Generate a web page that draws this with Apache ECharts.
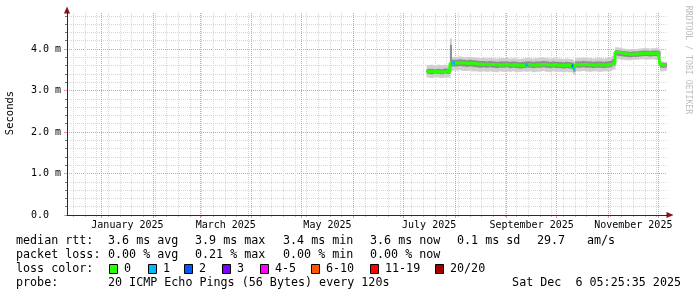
<!DOCTYPE html>
<html><head><meta charset="utf-8">
<script src="https://cdn.jsdelivr.net/npm/echarts@6/dist/echarts.min.js"></script>
<style>html,body{margin:0;padding:0;background:#fff}#c{width:697px;height:297px}</style>
</head><body><div id="c"></div>
<script>
// ---------- data (ms) ----------
const dates = [
 '2025-07-15','2025-07-17','2025-07-19','2025-07-21','2025-07-23','2025-07-25','2025-07-27',
 '2025-07-29','2025-07-29T20:00','2025-07-30',
 '2025-08-01','2025-08-03','2025-08-05','2025-08-07','2025-08-09','2025-08-11','2025-08-13','2025-08-15',
 '2025-08-17','2025-08-19','2025-08-21','2025-08-23','2025-08-25','2025-08-27','2025-08-29','2025-08-31',
 '2025-09-02','2025-09-04','2025-09-06','2025-09-08','2025-09-10','2025-09-12','2025-09-14','2025-09-16',
 '2025-09-18','2025-09-20','2025-09-22','2025-09-24','2025-09-26','2025-09-28','2025-09-30',
 '2025-10-02','2025-10-04','2025-10-06','2025-10-08','2025-10-10','2025-10-11','2025-10-12',
 '2025-10-14','2025-10-16','2025-10-18','2025-10-20','2025-10-22','2025-10-24','2025-10-26','2025-10-28','2025-10-30',
 '2025-11-01','2025-11-03',
 '2025-11-05','2025-11-07','2025-11-09','2025-11-11','2025-11-13','2025-11-15','2025-11-17','2025-11-19',
 '2025-11-21','2025-11-23','2025-11-25','2025-11-27','2025-11-29','2025-12-01',
 '2025-12-02','2025-12-04','2025-12-05T18:00'
];
const median = [
 3.46,3.45,3.46,3.45,3.44,3.46,3.45,
 3.65,3.65,3.66,
 3.66,3.67,3.66,3.65,3.66,3.65,3.64,3.63,
 3.63,3.62,3.63,3.62,3.62,3.61,3.62,3.62,
 3.61,3.62,3.61,3.60,3.61,3.62,3.62,3.61,
 3.62,3.62,3.63,3.62,3.61,3.62,3.61,
 3.61,3.60,3.61,3.60,3.59,3.52,3.62,
 3.62,3.63,3.62,3.62,3.61,3.62,3.62,3.61,3.62,
 3.63,3.67,
 3.92,3.91,3.89,3.88,3.87,3.88,3.88,3.89,
 3.90,3.90,3.89,3.90,3.90,3.88,
 3.62,3.61,3.61
];
// lost pings (of 20) per point
const lost = [
 0,0,0,0,0,0,0,
 0,0,1,
 0,0,0,0,0,0,0,0,
 0,0,0,0,0,0,0,0,
 0,0,0,0,0,1,0,0,
 0,0,0,0,0,0,0,
 0,0,0,0,2,1,0,
 0,0,0,0,0,0,0,0,0,
 0,0,
 0,0,0,0,0,0,0,0,
 0,0,0,0,0,0,
 0,0,0
];
const outerLo = [
 3.31,3.30,3.32,3.31,3.30,3.31,3.31,
 3.47,3.47,3.48,
 3.48,3.49,3.47,3.47,3.48,3.46,3.46,3.45,
 3.46,3.45,3.46,3.45,3.44,3.46,3.45,3.46,
 3.45,3.46,3.44,3.45,3.46,3.45,3.46,3.44,
 3.45,3.46,3.47,3.45,3.44,3.46,3.45,
 3.45,3.44,3.45,3.44,3.43,3.38,3.46,
 3.46,3.47,3.46,3.45,3.46,3.46,3.45,3.46,3.46,
 3.47,3.50,
 3.76,3.75,3.74,3.73,3.73,3.74,3.74,3.75,
 3.75,3.74,3.75,3.75,3.74,3.74,
 3.46,3.47,3.47
];
const outerHi = [
 3.61,3.62,3.60,3.62,3.61,3.62,3.60,
 4.25,3.80,3.81,
 3.81,3.82,3.80,3.80,3.81,3.80,3.79,3.78,
 3.79,3.78,3.79,3.78,3.77,3.78,3.78,3.79,
 3.77,3.78,3.77,3.76,3.77,3.78,3.78,3.77,
 3.78,3.78,3.79,3.78,3.77,3.78,3.77,
 3.77,3.76,3.77,3.76,3.75,3.70,3.78,
 3.78,3.79,3.78,3.78,3.77,3.78,3.78,3.77,3.78,
 3.79,3.83,
 4.04,4.03,4.01,4.00,3.99,4.00,4.00,4.01,
 4.02,4.02,4.01,4.02,4.02,4.00,
 3.70,3.69,3.69
];
const innerLo = [
 3.40,3.39,3.41,3.40,3.39,3.41,3.40,
 3.57,3.57,3.58,
 3.58,3.59,3.58,3.57,3.58,3.57,3.56,3.55,
 3.56,3.55,3.56,3.55,3.54,3.55,3.55,3.56,
 3.54,3.55,3.54,3.53,3.54,3.55,3.55,3.54,
 3.55,3.55,3.56,3.55,3.54,3.55,3.54,
 3.54,3.53,3.54,3.53,3.52,3.45,3.55,
 3.55,3.56,3.55,3.55,3.54,3.55,3.55,3.54,3.55,
 3.56,3.60,
 3.84,3.83,3.82,3.81,3.80,3.81,3.81,3.82,
 3.83,3.83,3.82,3.83,3.83,3.81,
 3.55,3.55,3.55
];
const innerHi = [
 3.52,3.52,3.51,3.52,3.51,3.53,3.52,
 4.10,3.73,3.74,
 3.74,3.75,3.74,3.73,3.74,3.73,3.72,3.71,
 3.71,3.70,3.71,3.70,3.69,3.70,3.70,3.70,
 3.69,3.70,3.69,3.68,3.69,3.70,3.70,3.69,
 3.70,3.70,3.71,3.70,3.69,3.70,3.69,
 3.69,3.68,3.69,3.68,3.67,3.60,3.70,
 3.70,3.71,3.70,3.70,3.69,3.70,3.70,3.69,3.70,
 3.71,3.75,
 3.97,3.96,3.95,3.94,3.93,3.94,3.94,3.95,
 3.96,3.96,3.95,3.96,3.96,3.94,
 3.67,3.66,3.66
];

// ---------- axes / ticks / labels ----------
const xStart = '2024-12-11T05:25:35';
const xEnd = '2025-12-06T05:25:35';
const firstWeek = '2024-12-15';
const monthStarts = ['2025-01-01','2025-02-01','2025-03-01','2025-04-01','2025-05-01','2025-06-01',
  '2025-07-01','2025-08-01','2025-09-01','2025-10-01','2025-11-01','2025-12-01'];
const labelMonths = ['2025-01','2025-03','2025-05','2025-07','2025-09','2025-11'];
const labelTexts = ['January 2025','March 2025','May 2025','July 2025','September 2025','November 2025'];
const yMajor = [0,1,2,3,4];
const yMajorLabels = ['0.0  ','1.0 m','2.0 m','3.0 m','4.0 m'];
const yMinor = [0.2,0.4,0.6,0.8,1.2,1.4,1.6,1.8,2.2,2.4,2.6,2.8,3.2,3.4,3.6,3.8,4.2,4.4,4.6,4.8];
const yMax = 4.867;
const yTitle = 'Seconds';
const watermark = 'RRDTOOL / TOBI OETIKER';

// ---------- legend texts ----------
const rowLabels = ['median rtt:', 'packet loss:', 'loss color:', 'probe:'];
const rttStats = ['3.6 ms avg','3.9 ms max','3.4 ms min','3.6 ms now','0.1 ms sd','29.7','am/s'];
const lossStats = ['0.00 % avg','0.21 % max','0.00 % min','0.00 % now'];
const lossBins = ['0','1','2','3','4-5','6-10','11-19','20/20'];
const lossBinMax = [0,1,2,3,5,10,19,20];
const lossColors = ['#26ff00','#00b8ff','#0059ff','#7e00ff','#ff00ff','#ff5500','#ff0000','#a10000'];
const probeText = '20 ICMP Echo Pings (56 Bytes) every 120s';
const stampText = 'Sat Dec  6 05:25:35 2025';

// ---------- build ----------
function ms(s){ return Date.parse(s.length === 10 ? s + 'T00:00:00Z' : (s.length === 16 ? s + ':00Z' : s + 'Z')); }
const xMin = ms(xStart), xMax = ms(xEnd);
const DAY = 86400000;
const monthTicks = monthStarts.map(ms);
const weekTicks = [];
for (let t = ms(firstWeek); t <= xMax; t += 7*DAY) if (monthTicks.indexOf(t) < 0) weekTicks.push(t);
const labelVals = [], labelMap = {};
labelMonths.forEach((m, i) => {
  const a = ms(m + '-01');
  const d = new Date(a); const b = Date.UTC(d.getUTCFullYear(), d.getUTCMonth() + 1, 1);
  const v = (a + b) / 2; labelVals.push(v); labelMap[v] = labelTexts[i];
});
const xs = dates.map(ms);
const pair = arr => arr.map((v, i) => [xs[i], v]);
// step bands: [x_i, x_{i+1}, lo_i, hi_i]
const band = (lo, hi) => lo.slice(0, -1).map((v, i) => [xs[i], xs[i + 1], v, hi[i]]);
const binOf = n => lossBinMax.findIndex(m => n <= m);
const lossSegs = [];
lost.forEach((n, i) => { if (n > 0 && i < xs.length - 1) lossSegs.push([xs[i], xs[i + 1], median[i], n]); });

const AX = '#2a2a2a', ARROW = '#8b1010', MINOR = '#d6d6d6', MAJOR = '#ee9898';
const mono = '"DejaVu Sans Mono", monospace';
const baseX = { type: 'value', min: xMin, max: xMax, position: 'bottom', offset: 0,
  axisLine: { show: false }, axisTick: { show: false }, axisLabel: { show: false }, splitLine: { show: false } };
const baseY = { type: 'value', min: 0, max: yMax, position: 'left', offset: 0,
  axisLine: { show: false }, axisTick: { show: false }, axisLabel: { show: false }, splitLine: { show: false } };

const xAxis = [
  Object.assign({}, baseX, { axisTick: { show: true, customValues: weekTicks, length: 2, lineStyle: { color: '#bbb' } },
    splitLine: { show: true, lineStyle: { color: MINOR, width: 1, type: [1, 1] } } }),
  Object.assign({}, baseX, { axisTick: { show: true, customValues: monthTicks, length: 3, lineStyle: { color: MAJOR } },
    splitLine: { show: true, lineStyle: { color: MAJOR, width: 1, type: [1, 1] } } }),
  Object.assign({}, baseX, { axisLabel: { show: true, customValues: labelVals, margin: 5, color: '#000',
    fontFamily: mono, fontSize: 10, formatter: v => labelMap[v] || '' } }),
  Object.assign({}, baseX, { axisLine: { show: true, symbol: ['none', 'triangle'], symbolSize: [6, 7], symbolOffset: [0, 3],
    lineStyle: { color: ARROW, width: 1 } } }),
  Object.assign({}, baseX, { z: 1, axisLine: { show: true, lineStyle: { color: AX, width: 1 } } })
];
const yAxis = [
  Object.assign({}, baseY, { axisTick: { show: true, customValues: yMinor, length: 2, lineStyle: { color: '#777' } },
    splitLine: { show: true, lineStyle: { color: MINOR, width: 1, type: [1, 1] } } }),
  Object.assign({}, baseY, { axisTick: { show: true, customValues: yMajor, length: 3, lineStyle: { color: MAJOR } },
    splitLine: { show: true, lineStyle: { color: MAJOR, width: 1, type: [1, 1] } },
    axisLabel: { show: true, customValues: yMajor, margin: 6, color: '#000', fontFamily: mono, fontSize: 10,
      formatter: v => yMajorLabels[yMajor.indexOf(v)] } }),
  Object.assign({}, baseY, { axisLine: { show: true, symbol: ['none', 'triangle'], symbolSize: [6, 7], symbolOffset: [0, 3],
    lineStyle: { color: ARROW, width: 1 } } }),
  Object.assign({}, baseY, { z: 1, axisLine: { show: true, lineStyle: { color: AX, width: 1 } } })
];

function bandSeries(data, color) {
  return {
    type: 'custom', xAxisIndex: 0, yAxisIndex: 0, silent: true, z: 2,
    encode: { x: [0, 1], y: [2, 3] }, data: data,
    renderItem: function (params, api) {
      const p0 = api.coord([api.value(0), api.value(3)]);
      const p1 = api.coord([api.value(1), api.value(2)]);
      return { type: 'rect', shape: { x: p0[0], y: p0[1], width: p1[0] - p0[0] + 0.6, height: p1[1] - p0[1] },
        style: { fill: color } };
    }
  };
}
const common = { type: 'line', xAxisIndex: 0, yAxisIndex: 0, step: 'end', showSymbol: false, symbol: 'none', silent: true, z: 3 };
const series = [
  bandSeries(band(outerLo, outerHi), '#cfcfcf'),
  bandSeries(band(innerLo, innerHi), '#8e8e8e'),
  Object.assign({}, common, { data: pair(median), lineStyle: { color: '#1a1a1a', width: 1 } }),
  Object.assign({}, common, { data: pair(median), lineStyle: { color: lossColors[0], width: 3 } }),
  {
    type: 'custom', xAxisIndex: 0, yAxisIndex: 0, silent: true, z: 4,
    encode: { x: [0, 1], y: 2 }, data: lossSegs,
    renderItem: function (params, api) {
      const p0 = api.coord([api.value(0), api.value(2)]);
      const p1 = api.coord([api.value(1), api.value(2)]);
      return { type: 'rect', shape: { x: p0[0], y: p0[1] - 1.5, width: Math.max(p1[0] - p0[0], 1.5), height: 3 },
        style: { fill: lossColors[binOf(api.value(3))] } };
    }
  }
];

// legend graphics
const txt = (x, y, s, extra) => ({ type: 'text', x: x, y: y, silent: true,
  style: Object.assign({ text: s, fill: '#000', font: '11.7px ' + mono, align: 'left', verticalAlign: 'middle' }, extra || {}) });
const rowY = [241, 255, 269, 283];
const statX = [108, 195, 283, 370, 457, 537, 587];
const boxX = [109, 148, 184, 222, 260, 311, 370, 435];
const g = [];
rowLabels.forEach((s, i) => g.push(txt(16, rowY[i], s)));
rttStats.forEach((s, i) => g.push(txt(statX[i], rowY[0], s)));
lossStats.forEach((s, i) => g.push(txt(statX[i], rowY[1], s)));
lossBins.forEach((s, i) => {
  g.push({ type: 'rect', silent: true, shape: { x: boxX[i] + 0.5, y: rowY[2] - 4.5, width: 8, height: 9 },
    style: { fill: lossColors[i], stroke: '#000', lineWidth: 1 } });
  g.push(txt(boxX[i] + 15, rowY[2], s));
});
g.push(txt(108, rowY[3], probeText));
g.push(txt(681, rowY[3], stampText, { align: 'right' }));
g.push({ type: 'text', x: 10, y: 113, rotation: Math.PI / 2, silent: true,
  style: { text: yTitle, fill: '#000', font: '10.5px ' + mono, align: 'center', verticalAlign: 'middle' } });
g.push({ type: 'text', x: 688, y: 60, rotation: -Math.PI / 2, silent: true,
  style: { text: watermark, fill: '#bdbdbd', font: '8.2px ' + mono, align: 'center', verticalAlign: 'middle' } });

const chart = echarts.init(document.getElementById('c'), null, { renderer: 'canvas' });
chart.setOption({
  animation: false,
  backgroundColor: '#ffffff',
  grid: { left: 67, right: 30, top: 13, bottom: 82, containLabel: false },
  xAxis: xAxis, yAxis: yAxis, series: series, graphic: g
});
</script></body></html>
